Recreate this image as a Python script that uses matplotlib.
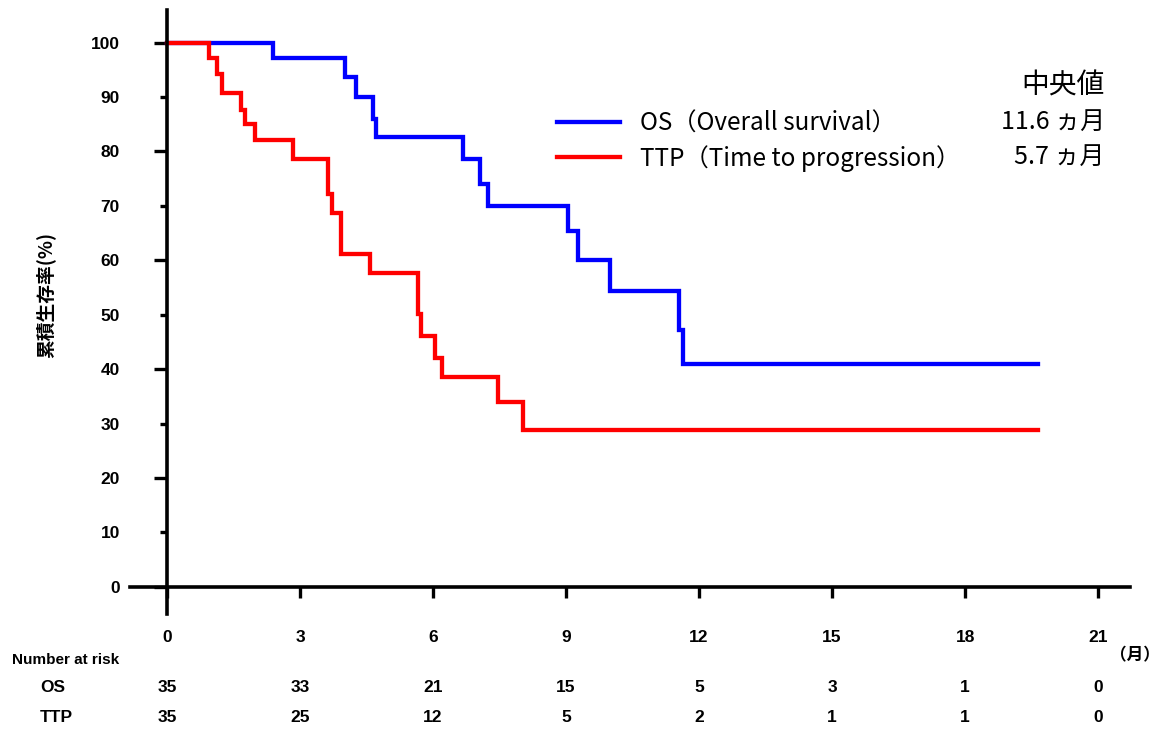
import matplotlib
matplotlib.use("Agg")
import matplotlib.pyplot as plt
from matplotlib.lines import Line2D
from matplotlib.transforms import blended_transform_factory
from matplotlib.ticker import FixedLocator

plt.rcParams['font.family'] = ['Noto Sans CJK JP', 'DejaVu Sans']

# ---- data ----
os_time = [0, 2.38, 4.01, 4.26, 4.65, 4.72, 6.67, 7.07, 7.24, 9.04, 9.27, 9.99, 11.55, 11.63, 19.64]
os_surv = [100, 97.1, 93.6, 90.0, 86.0, 82.6, 78.7, 74.0, 69.9, 65.3, 60.1, 54.3, 47.2, 41.0, 41.0]

ttp_time = [0, 0.95, 1.12, 1.25, 1.66, 1.76, 1.98, 2.84, 3.63, 3.71, 3.93, 4.57, 5.66, 5.73,
            6.05, 6.21, 7.46, 8.02, 19.64]
ttp_surv = [100, 97.2, 94.2, 90.8, 87.7, 85.0, 82.1, 78.6, 72.2, 68.7, 61.2, 57.7, 50.2, 46.1,
            42.0, 38.6, 34.0, 28.8, 28.8]

x_ticks = [0, 3, 6, 9, 12, 15, 18, 21]
y_major = [0, 20, 40, 60, 80, 100]
y_minor = [10, 30, 50, 70, 90]
risk_os = [35, 33, 21, 15, 5, 3, 1, 0]
risk_ttp = [35, 25, 12, 5, 2, 1, 1, 0]

legend_labels = ['OS（Overall survival）', 'TTP（Time to progression）']
median_title = '中央値'
median_values = ['11.6 ヵ月', '5.7 ヵ月']
ylabel = '累積生存率(%)'

W, H = 1159, 733
fig = plt.figure(figsize=(W / 100, H / 100), dpi=100)
ax = fig.add_axes([130 / W, 1 - 614 / H, (1130 - 130) / W, (614 - 10) / H])
ax.set_xlim(-0.835, 21.72)
ax.set_ylim(-5, 106)

ax.step(os_time, os_surv, where='post', color='#0000ff', lw=3.1, solid_joinstyle='miter')
ax.step(ttp_time, ttp_surv, where='post', color='#ff0000', lw=3.1, solid_joinstyle='miter')

for s in ['top', 'right']:
    ax.spines[s].set_visible(False)
ax.spines['left'].set_position(('data', 0))
ax.spines['bottom'].set_position(('data', 0))
for s in ['left', 'bottom']:
    ax.spines[s].set_linewidth(2.6)
    ax.spines[s].set_color('black')

tick_font = dict(family=['Liberation Sans'], weight='bold', size=12.5)
small_font = dict(family=['Liberation Sans'], weight='bold', size=11)

ax.yaxis.set_major_locator(FixedLocator(y_major))
ax.yaxis.set_minor_locator(FixedLocator(y_minor))
ax.set_yticklabels([str(v) for v in y_major], fontdict=tick_font)
ax.set_yticklabels([str(v) for v in y_minor], minor=True, fontdict=tick_font)
ax.tick_params(axis='y', which='major', direction='out', length=9.4, width=2.4, pad=24.5)
ax.tick_params(axis='y', which='minor', direction='out', length=5.0, width=2.4, pad=28.9)

ax.xaxis.set_major_locator(FixedLocator(x_ticks))
ax.set_xticklabels([str(v) for v in x_ticks], fontdict=tick_font)
ax.tick_params(axis='x', which='major', direction='out', length=8, width=2.4, pad=23)

# Number at risk table
tr = blended_transform_factory(ax.transData, fig.transFigure)
for x, a, b in zip(x_ticks, risk_os, risk_ttp):
    ax.text(x, 1 - 688 / H, str(a), transform=tr, ha='center', va='center', **tick_font)
    ax.text(x, 1 - 718 / H, str(b), transform=tr, ha='center', va='center', **tick_font)
fig.text(12 / W, 1 - 660 / H, 'Number at risk', ha='left', va='center', **small_font)
fig.text(40 / W, 1 - 688 / H, 'OS', ha='left', va='center', **tick_font)
fig.text(40 / W, 1 - 718 / H, 'TTP', ha='left', va='center', **tick_font)
fig.text(1110 / W, 1 - 655 / H, '（月）', ha='left', va='center',
         family=['Noto Sans CJK JP'], weight='bold', size=12)

fig.text(45 / W, 1 - 295 / H, ylabel, rotation=90, ha='center', va='center',
         family=['Noto Sans CJK JP', 'DejaVu Sans'], weight='bold', size=13.5)

# legend
handles = [Line2D([], [], color='#0000ff', lw=3.1), Line2D([], [], color='#ff0000', lw=3.1)]
leg = ax.legend(handles, legend_labels, loc='upper left', bbox_to_anchor=(557 / W, 1 - 111 / H),
                bbox_transform=fig.transFigure, frameon=False, borderpad=0, borderaxespad=0,
                handlelength=2.6, handletextpad=0.8, labelspacing=0.33,
                prop=dict(family='Noto Sans CJK JP', size=17.5))

fig.text(1105 / W, 1 - 86 / H, median_title, ha='right', va='center',
         family='Noto Sans CJK JP', size=20)
for yv, txt in zip([122, 157], median_values):
    fig.text(1105 / W, 1 - yv / H, txt, ha='right', va='center',
             family='Noto Sans CJK JP', size=18)

fig.savefig('out.png', dpi=100)
